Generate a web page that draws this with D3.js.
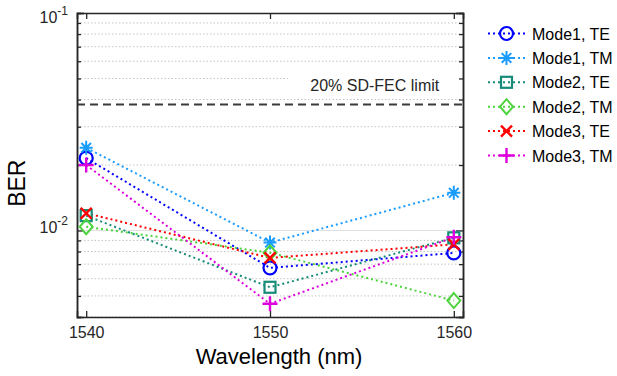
<!DOCTYPE html>
<html>
<head>
<meta charset="utf-8">
<script src="https://cdn.jsdelivr.net/npm/d3@7/dist/d3.min.js"></script>
<style>
  body { margin: 0; background: #fff; }
  text { font-family: "Liberation Sans", Arial, sans-serif; }
</style>
</head>
<body>
<div id="container"></div>
<script>
// wavelengths (nm)
var wavelengths = [1540, 1550, 1560];

var seriesNames = ["Mode1, TE", "Mode1, TM", "Mode2, TE", "Mode2, TM", "Mode3, TE", "Mode3, TM"];
var mode1TE = [0.0215, 0.00673, 0.00788];
var mode1TM = [0.0240, 0.00880, 0.0149];
var mode2TE = [0.0117, 0.00548, 0.00925];
var mode2TM = [0.0104, 0.00790, 0.00476];
var mode3TE = [0.0120, 0.00748, 0.00863];
var mode3TM = [0.0200, 0.00460, 0.00930];

var fecLimit = 0.038;
var fecLabel = "20% SD-FEC limit";

var colors = ["#0000ff", "#1a9cff", "#168c78", "#4cd43c", "#ff0000", "#dd00dd"];
var markers = ["circle", "star", "square", "diamond", "cross", "plus"];
var allSeries = [mode1TE, mode1TM, mode2TE, mode2TM, mode3TE, mode3TM];

var width = 617, height = 376;
var margin = {top: 13, right: 154, bottom: 59, left: 77};
var w = width - margin.left - margin.right;
var h = height - margin.top - margin.bottom;

var svg = d3.select("#container").append("svg")
    .attr("width", width).attr("height", height);

var g = svg.append("g")
    .attr("transform", "translate(" + margin.left + "," + margin.top + ")");

var x = d3.scaleLinear().domain([1539.5, 1560.5]).range([0, w]);
var y = d3.scaleLog().domain([0.004, 0.1]).range([h, 0]);

var minorVals = [0.004, 0.005, 0.006, 0.007, 0.008, 0.009, 0.02, 0.03, 0.04, 0.05, 0.06, 0.07, 0.08, 0.09];
var majorVals = [0.01, 0.1];

// grid
g.selectAll(".minor").data(minorVals).enter().append("line")
    .attr("x1", 0).attr("x2", w)
    .attr("y1", function(d) { return y(d); }).attr("y2", function(d) { return y(d); })
    .attr("stroke", "#c4c4c4").attr("stroke-width", 1).attr("stroke-dasharray", "1.5,2");
g.append("line")
    .attr("x1", 0).attr("x2", w).attr("y1", y(0.01)).attr("y2", y(0.01))
    .attr("stroke", "#e0e0e0").attr("stroke-width", 1);

// FEC label with white box
g.append("rect").attr("x", 211).attr("y", y(0.053)).attr("width", w - 212).attr("height", 16).attr("fill", "#fff");
g.append("text").attr("x", x(1555.7)).attr("y", y(0.0438))
    .attr("text-anchor", "middle").attr("font-size", 16).attr("fill", "#262626")
    .text(fecLabel);

g.append("line")
    .attr("x1", 0).attr("x2", w).attr("y1", y(fecLimit)).attr("y2", y(fecLimit))
    .attr("stroke", "#3a3a3a").attr("stroke-width", 2).attr("stroke-dasharray", "8,5");

// axes
var yLeftMinor = d3.axisLeft(y).tickValues(minorVals).tickSize(-4).tickFormat("");
var yRightMinor = d3.axisRight(y).tickValues(minorVals).tickSize(-4).tickFormat("");
var yLeftMajor = d3.axisLeft(y).tickValues(majorVals).tickSize(-7).tickFormat("");
var yRightMajor = d3.axisRight(y).tickValues(majorVals).tickSize(-7).tickFormat("");
var xBottom = d3.axisBottom(x).tickValues(wavelengths).tickSize(-6).tickPadding(10).tickFormat(d3.format("d"));
var xTop = d3.axisTop(x).tickValues(wavelengths).tickSize(-6).tickFormat("");

function styleAxis(sel) {
    sel.selectAll("path").attr("stroke", "#262626").attr("stroke-width", 1.5);
    sel.selectAll("line").attr("stroke", "#262626").attr("stroke-width", 1.3);
    sel.selectAll("text").attr("font-size", 16).attr("fill", "#262626")
        .attr("font-family", "'Liberation Sans', Arial, sans-serif");
}

g.append("g").call(yLeftMinor).call(styleAxis);
g.append("g").call(yLeftMajor).call(styleAxis);
g.append("g").attr("transform", "translate(" + w + ",0)").call(yRightMinor).call(styleAxis);
g.append("g").attr("transform", "translate(" + w + ",0)").call(yRightMajor).call(styleAxis);
g.append("g").attr("transform", "translate(0," + h + ")").call(xBottom).call(styleAxis);
g.append("g").call(xTop).call(styleAxis);

// y tick labels with superscripts
var yl = g.selectAll(".ylab").data(majorVals).enter().append("text")
    .attr("x", -9).attr("y", function(d) { return Math.max(y(d) + 3, 10); })
    .attr("text-anchor", "end").attr("font-size", 16).attr("fill", "#262626");
yl.append("tspan").text("10");
yl.append("tspan").attr("dy", -8).attr("font-size", 12)
    .text(function(d) { return String(Math.round(Math.log10(d))); });

// axis titles
svg.append("text").attr("x", margin.left + w / 2 + 9).attr("y", 364)
    .attr("text-anchor", "middle").attr("font-size", 22).attr("fill", "#000")
    .text("Wavelength (nm)");
svg.append("text").attr("transform", "translate(25," + (margin.top + y(0.0165)) + ") rotate(-90)")
    .attr("text-anchor", "middle").attr("font-size", 23).attr("fill", "#000")
    .text("BER");

// marker drawing
function drawMarker(sel, type, color) {
    var s = sel;
    if (type === "circle") {
        s.append("circle").attr("r", 6.5).attr("fill", "none").attr("stroke", color).attr("stroke-width", 2.2);
    } else if (type === "square") {
        s.append("rect").attr("x", -5.5).attr("y", -5.5).attr("width", 11).attr("height", 11)
            .attr("fill", "none").attr("stroke", color).attr("stroke-width", 2.2);
    } else if (type === "diamond") {
        s.append("path").attr("d", "M0,-7.5L6.5,0L0,7.5L-6.5,0Z")
            .attr("fill", "none").attr("stroke", color).attr("stroke-width", 2);
    } else if (type === "cross") {
        s.append("path").attr("d", "M-5.5,-5.5L5.5,5.5M-5.5,5.5L5.5,-5.5")
            .attr("stroke", color).attr("stroke-width", 2.4);
    } else if (type === "plus") {
        s.append("path").attr("d", "M-7.5,0L7.5,0M0,-7.5L0,7.5")
            .attr("stroke", color).attr("stroke-width", 2.4);
    } else if (type === "star") {
        s.append("path").attr("d", "M-6.5,0L6.5,0M0,-7L0,7M-4.8,-4.8L4.8,4.8M-4.8,4.8L4.8,-4.8")
            .attr("stroke", color).attr("stroke-width", 2);
    }
}

var line = d3.line()
    .x(function(d, i) { return x(wavelengths[i]); })
    .y(function(d) { return y(d); });

allSeries.forEach(function(vals, k) {
    g.append("path").datum(vals)
        .attr("d", line)
        .attr("fill", "none").attr("stroke", colors[k])
        .attr("stroke-width", 2).attr("stroke-dasharray", "2,3");
});
allSeries.forEach(function(vals, k) {
    vals.forEach(function(v, i) {
        var m = g.append("g").attr("transform", "translate(" + x(wavelengths[i]) + "," + y(v) + ")");
        drawMarker(m, markers[k], colors[k]);
    });
});

// legend
var leg = svg.append("g").attr("transform", "translate(488,33.5)");
seriesNames.forEach(function(name, k) {
    var row = leg.append("g").attr("transform", "translate(0," + (k * 24.4) + ")");
    row.append("line").attr("x1", 0).attr("x2", 37).attr("y1", 0).attr("y2", 0)
        .attr("stroke", colors[k]).attr("stroke-width", 2).attr("stroke-dasharray", "2,3");
    var m = row.append("g").attr("transform", "translate(18.5,0)");
    drawMarker(m, markers[k], colors[k]);
    row.append("text").attr("x", 44).attr("y", 6).attr("font-size", 16).attr("fill", "#000").text(name);
});
</script>
</body>
</html>
